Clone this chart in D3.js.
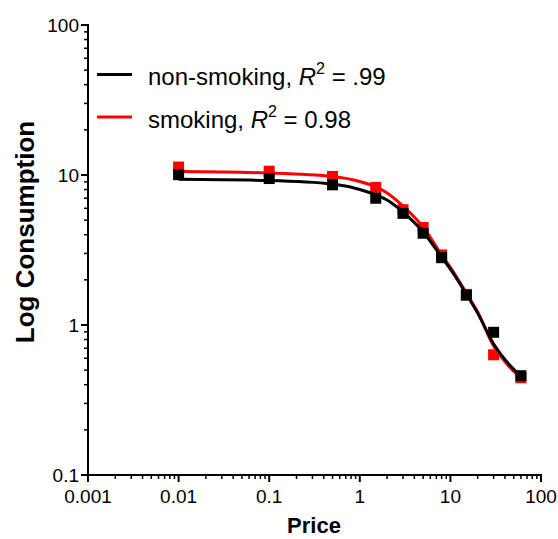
<!DOCTYPE html>
<html>
<head>
<meta charset="utf-8">
<script src="https://cdn.jsdelivr.net/npm/d3@7/dist/d3.min.js"></script>
<style>
  html, body { margin: 0; padding: 0; background: #fff; }
  svg { display: block; font-family: "Liberation Sans", Arial, sans-serif; }
</style>
</head>
<body>
<svg id="chart" width="558" height="539"></svg>
<script>
// Observed prices and consumption for each group
const prices = [0.01, 0.1, 0.5, 1.5, 3, 5, 8, 15, 30, 60];
const nonSmoking = [10.05, 9.47, 8.6, 7.0, 5.55, 4.09, 2.81, 1.58, 0.894, 0.459];
const smoking = [11.3, 10.6, 9.78, 8.27, 5.87, 4.47, 2.93, 1.6, 0.633, 0.445];

// Fitted demand curves, sampled along the price range
const fitPrices = [0.01, 0.1, 0.5, 1, 1.5, 2, 3, 5, 8, 10, 15, 20, 30, 45, 60];
const nonSmokingFit = [9.36, 9.19, 8.71, 8.0, 7.36, 6.81, 5.66, 4.17, 2.84, 2.36, 1.61, 1.2, 0.747, 0.541, 0.457];
const smokingFit = [10.55, 10.31, 9.77, 9.05, 8.32, 7.59, 6.21, 4.5, 2.93, 2.42, 1.63, 1.22, 0.724, 0.525, 0.443];

// Axis ticks
const xTicks = [0.001, 0.01, 0.1, 1, 10, 100];
const xTickLabels = ["0.001", "0.01", "0.1", "1", "10", "100"];
const yTicks = [0.1, 1, 10, 100];
const yTickLabels = ["0.1", "1", "10", "100"];

const groups = [
  { name: "smoking", r2: "0.98", color: "#ff0000", obs: smoking, fit: smokingFit },
  { name: "non-smoking", r2: ".99", color: "#000000", obs: nonSmoking, fit: nonSmokingFit }
];

const svg = d3.select("#chart");

const x = d3.scaleLog().domain([0.001, 100]).range([88, 541]);
const y = d3.scaleLog().domain([0.1, 100]).range([475, 25]);

// minor ticks 2..9 within each decade
function minorTicks(lo, hi) {
  const out = [];
  for (let d = lo; d < hi; d *= 10) {
    for (let k = 2; k <= 9; k++) out.push(d * k);
  }
  return out;
}

const majorLen = 7, minorLen = 4, tickFont = 19;

// X axis
const xAxis = svg.append("g").attr("transform", "translate(0,475)");
xAxis.append("line").attr("x1", x(0.001)).attr("x2", x(100))
  .attr("stroke", "#000").attr("stroke-width", 2).attr("stroke-linecap", "square");
xAxis.selectAll("line.minor").data(minorTicks(0.001, 100)).enter().append("line")
  .attr("class", "minor")
  .attr("x1", d => x(d)).attr("x2", d => x(d)).attr("y1", 0).attr("y2", minorLen)
  .attr("stroke", "#000").attr("stroke-width", 1.5);
xAxis.selectAll("line.major").data(xTicks).enter().append("line")
  .attr("class", "major")
  .attr("x1", d => x(d)).attr("x2", d => x(d)).attr("y1", 0).attr("y2", majorLen)
  .attr("stroke", "#000").attr("stroke-width", 2);
xAxis.selectAll("text").data(xTicks).enter().append("text")
  .attr("x", d => x(d)).attr("y", 28)
  .attr("text-anchor", "middle").attr("font-size", tickFont)
  .text((d, i) => xTickLabels[i]);

// Y axis
const yAxis = svg.append("g").attr("transform", "translate(88,0)");
yAxis.append("line").attr("y1", y(0.1)).attr("y2", y(100))
  .attr("stroke", "#000").attr("stroke-width", 2).attr("stroke-linecap", "square");
yAxis.selectAll("line.minor").data(minorTicks(0.1, 100)).enter().append("line")
  .attr("class", "minor")
  .attr("y1", d => y(d)).attr("y2", d => y(d)).attr("x1", 0).attr("x2", -minorLen)
  .attr("stroke", "#000").attr("stroke-width", 1.5);
yAxis.selectAll("line.major").data(yTicks).enter().append("line")
  .attr("class", "major")
  .attr("y1", d => y(d)).attr("y2", d => y(d)).attr("x1", 0).attr("x2", -majorLen)
  .attr("stroke", "#000").attr("stroke-width", 2);
yAxis.selectAll("text").data(yTicks).enter().append("text")
  .attr("x", -9).attr("y", d => y(d)).attr("dy", "0.36em")
  .attr("text-anchor", "end").attr("font-size", tickFont)
  .text((d, i) => yTickLabels[i]);

// Axis titles
svg.append("text").attr("x", 314).attr("y", 533)
  .attr("text-anchor", "middle").attr("font-size", 22).attr("font-weight", "bold")
  .text("Price");
svg.append("text").attr("transform", "translate(34,232) rotate(-90)")
  .attr("text-anchor", "middle").attr("font-size", 26).attr("font-weight", "bold")
  .text("Log Consumption");

// Curves and points
const line = d3.line().x(d => x(d[0])).y(d => y(d[1])).curve(d3.curveMonotoneX);
const sq = 11;
groups.forEach(g => {
  svg.append("path")
    .datum(fitPrices.map((p, i) => [p, g.fit[i]]))
    .attr("d", line).attr("fill", "none")
    .attr("stroke", g.color).attr("stroke-width", 3);
  svg.append("g").selectAll("rect")
    .data(prices.map((p, i) => [p, g.obs[i]])).enter().append("rect")
    .attr("x", d => x(d[0]) - sq / 2).attr("y", d => y(d[1]) - sq / 2)
    .attr("width", sq).attr("height", sq).attr("fill", g.color);
});

// Legend
const legendItems = [groups[1], groups[0]];
const legend = svg.append("g");
legendItems.forEach((g, i) => {
  const ly = 74.5 + i * 42.5;
  legend.append("line").attr("x1", 97).attr("x2", 132).attr("y1", ly).attr("y2", ly)
    .attr("stroke", g.color).attr("stroke-width", 3);
  const t = legend.append("text").attr("x", 148).attr("y", ly + 10.7).attr("font-size", 24);
  t.append("tspan").text(g.name + ", ");
  t.append("tspan").attr("font-style", "italic").text("R");
  t.append("tspan").attr("font-size", 16).attr("dy", -11).text("2");
  t.append("tspan").attr("dy", 11).text(" = " + g.r2);
});
</script>
</body>
</html>
